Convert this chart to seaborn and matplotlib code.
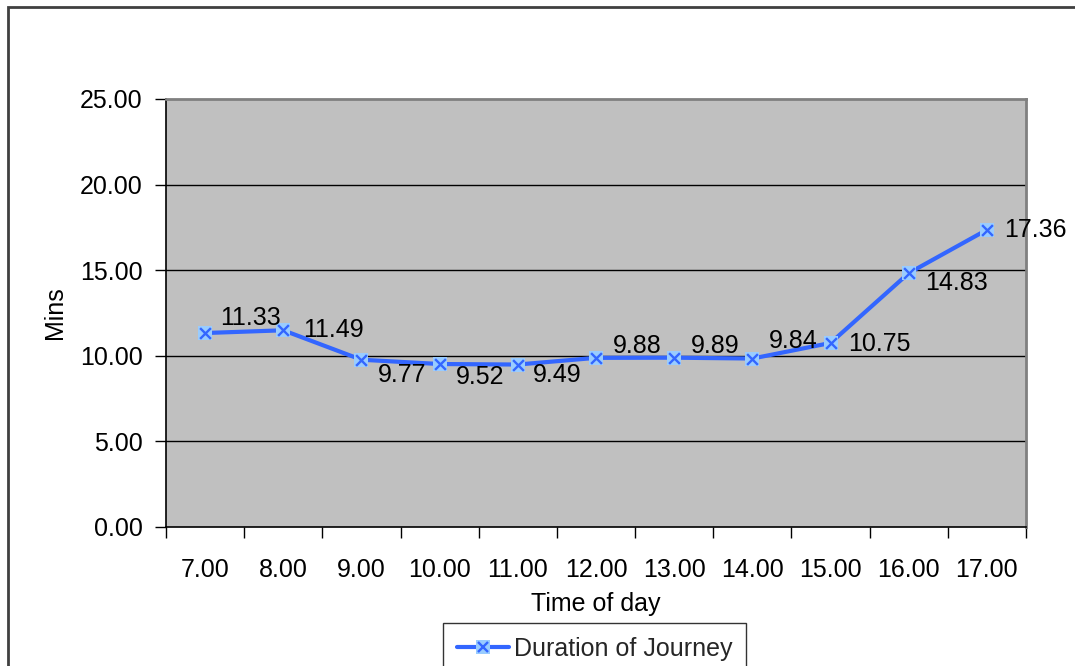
import matplotlib
matplotlib.use("Agg")
import matplotlib.pyplot as plt
import seaborn as sns
import pandas as pd
import numpy as np
from matplotlib.lines import Line2D
from matplotlib.legend_handler import HandlerTuple
from matplotlib.patches import Rectangle

times = ["7.00", "8.00", "9.00", "10.00", "11.00", "12.00", "13.00", "14.00", "15.00", "16.00", "17.00"]
duration = [11.33, 11.49, 9.77, 9.52, 9.49, 9.88, 9.89, 9.84, 10.75, 14.83, 17.36]
series_name = "Duration of Journey"

# label offsets in pixels (dx, dy) relative to each point
label_offsets = [(45, 15), (50, 0), (41, -15), (40, -13), (39, -10), (41, 12),
                 (41, 12), (41, 18), (49, -1), (48, -10), (48, 0)]

df = pd.DataFrame({"Time of day": times, "Mins": duration})

sns.set_theme(style="white")
plt.rcParams['font.family'] = ['Liberation Sans', 'DejaVu Sans']

fig = plt.figure(figsize=(10.75, 6.66), dpi=100)
ax = fig.add_axes([166/1075, 1-527/666, 860/1075, 428/666])

line_color = "#3366FF"
sq_color = "#99CCFF"

sns.lineplot(data=df, x="Time of day", y="Mins", ax=ax, color=line_color,
             linewidth=3, marker="s", markersize=10, markerfacecolor=sq_color,
             markeredgewidth=0, zorder=3, sort=False)
sns.scatterplot(data=df, x="Time of day", y="Mins", ax=ax, color=line_color,
                marker="x", s=60, linewidth=1.7, zorder=4)

for i, (t, v) in enumerate(zip(times, duration)):
    dx, dy = label_offsets[i]
    ax.annotate(f"{v:.2f}", xy=(i, v), xytext=(dx, dy), textcoords="offset pixels",
                ha="center", va="center", fontsize=18, color="black", zorder=5,
                annotation_clip=False)

ax.set_facecolor("#C0C0C0")
ax.set_xlim(-0.5, len(times) - 0.5)
ax.set_ylim(0, 25)
ax.set_yticks(np.arange(0, 26, 5))
ax.set_yticklabels([f"{v:.2f}" for v in np.arange(0, 26, 5)])
ax.set_xticks(range(len(times)))
ax.set_xticklabels(times)
ax.set_xticks(np.arange(-0.5, len(times), 1), minor=True)
ax.tick_params(axis="x", which="major", length=0, pad=22, labelsize=18, colors="black")
ax.tick_params(axis="x", which="minor", length=8, width=1, color="black", direction="out", bottom=True)
ax.tick_params(axis="y", which="major", length=8, width=1, color="black", direction="out",
               left=True, pad=9, labelsize=18, labelcolor="black")

ax.grid(False)
for v in [5, 10, 15, 20]:
    ax.axhline(v, color="black", linewidth=1, zorder=1)

ax.spines["left"].set_color("black")
ax.spines["left"].set_linewidth(1.2)
ax.spines["bottom"].set_color("black")
ax.spines["bottom"].set_linewidth(1.2)
ax.spines["top"].set_color("#808080")
ax.spines["top"].set_linewidth(2)
ax.spines["right"].set_color("#808080")
ax.spines["right"].set_linewidth(2)
for s in ax.spines.values():
    s.set_visible(True)

ax.set_xlabel("Time of day", fontsize=18, color="black", va="center")
ax.set_ylabel("Mins", fontsize=18, color="black", va="center")
ax.xaxis.set_label_coords(0.5, (527 - 604) / 428)
ax.yaxis.set_label_coords((55 - 166) / 860, 0.5)

# legend
h_line = Line2D([], [], color=line_color, linewidth=3)
h_sq = Line2D([], [], linestyle="none", marker="s", markersize=10, markerfacecolor=sq_color, markeredgewidth=0)
h_x = Line2D([], [], linestyle="none", marker="x", markersize=7.5, markeredgecolor=line_color, markeredgewidth=1.7)
leg = fig.legend([(h_line, h_sq, h_x)], [series_name],
                 handler_map={tuple: HandlerTuple(ndivide=1)},
                 loc="upper center", bbox_to_anchor=(594.5/1075, 1 - 623/666),
                 fontsize=18, frameon=True, fancybox=False, handlelength=2.1,
                 handletextpad=0.2, borderpad=0.55, borderaxespad=0)
leg.get_frame().set_edgecolor("black")
leg.get_frame().set_linewidth(1)
leg.get_frame().set_facecolor("white")

# outer border
fig.patches.append(Rectangle((8/1075, -0.2), 1.2, 1.2 - 7/666, transform=fig.transFigure,
                             fill=False, edgecolor="#404040", linewidth=2, clip_on=False))

fig.savefig("out.png", dpi=100, facecolor="white")
